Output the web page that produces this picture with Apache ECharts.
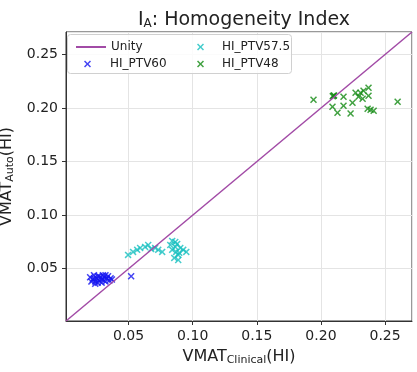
<!DOCTYPE html>
<html>
<head>
<meta charset="utf-8">
<script src="https://cdn.jsdelivr.net/npm/echarts@6/dist/echarts.min.js"></script>
<style>
html,body{margin:0;padding:0;background:#fff;}
#chart{width:417px;height:372px;}
</style>
</head>
<body>
<div id="chart"></div>
<script>
// values, [clinical HI, auto HI]
var ptv60 = [
	[0.020,0.042],[0.022,0.040],[0.023,0.044],[0.024,0.038],[0.025,0.041],
	[0.026,0.043],[0.027,0.039],[0.028,0.042],[0.029,0.037],[0.030,0.044],
	[0.030,0.040],[0.031,0.042],[0.032,0.038],[0.033,0.041],[0.034,0.043],
	[0.035,0.039],[0.036,0.041],[0.021,0.038],[0.024,0.036],[0.027,0.043],
	[0.029,0.040],[0.032,0.044],[0.026,0.037],[0.037,0.040],[0.023,0.041],
	[0.052,0.043]
];
var ptv575 = [
	[0.0496,0.0629],[0.0535,0.0657],[0.0567,0.0676],[0.0590,0.0694],[0.0629,0.0704],
	[0.0653,0.0722],[0.0676,0.0685],[0.0707,0.0694],[0.0731,0.0676],[0.0762,0.0657],
	[0.0825,0.0722],[0.0840,0.0760],[0.0864,0.0750],[0.0864,0.0704],[0.0871,0.0657],
	[0.0887,0.0629],[0.0856,0.0601],[0.0887,0.0582],[0.0903,0.0694],[0.0926,0.0676],
	[0.0950,0.0657],[0.0840,0.0676],[0.0879,0.0732],[0.0895,0.0648]
];
var ptv48 = [
	[0.1942,0.2077],[0.2098,0.2115],[0.2092,0.2110],[0.2102,0.2118],[0.2090,0.2012],
	[0.2129,0.1956],[0.2176,0.2105],[0.2176,0.2021],[0.2231,0.1949],[0.2246,0.2049],
	[0.2270,0.2143],[0.2293,0.2105],[0.2309,0.2143],[0.2325,0.2087],[0.2332,0.2162],
	[0.2371,0.2190],[0.2371,0.2115],[0.2364,0.1993],[0.2387,0.1984],[0.2411,0.1975],
	[0.2598,0.2059]
];
var unityLine = [[0.0012,0.0012],[0.271,0.271]];
var axisMin = 0.0012, axisMax = 0.271;

var xMark = 'path://M0,1.5L1.5,0L5,3.5L8.5,0L10,1.5L6.5,5L10,8.5L8.5,10L5,6.5L1.5,10L0,8.5L3.5,5Z';
var fontFam = 'DejaVu Sans';

var myChart = echarts.init(document.getElementById('chart'));

function valueAxis(sub, extra){
	var ax = {
		type : 'value',
		min : axisMin,
		max : axisMax,
		minInterval : 0.05,
		maxInterval : 0.05,
		splitNumber : 5,
		name : '{n|VMAT}{s|' + sub + '}{n|(HI)}',
		nameLocation : 'middle',
		nameTextStyle : {
			rich : {
				n : { fontSize : 16, color : '#222', fontFamily : fontFam },
				s : { fontSize : 11, color : '#222', fontFamily : fontFam, verticalAlign : 'bottom', padding : [8,0,0,0] }
			}
		},
		axisLine : { show : true, lineStyle : { color : '#333', width : 1 } },
		axisTick : { show : true, inside : false, length : 4, lineStyle : { color : '#333' } },
		axisLabel : {
			showMinLabel : false,
			showMaxLabel : false,
			fontSize : 14,
			color : '#222',
			fontFamily : fontFam,
			formatter : function(v){ return v.toFixed(2); }
		},
		splitLine : { show : true, lineStyle : { color : '#e4e4e4', width : 1 } }
	};
	for (var k in extra) ax[k] = extra[k];
	return ax;
}

function oneLegend(name, left, top, w, h, pad){
	return {
		data : [ name ],
		left : left,
		top : top,
		padding : 0,
		itemWidth : w,
		itemHeight : h,
		selectedMode : false,
		textStyle : { fontSize : 12, color : '#222', fontFamily : fontFam, padding : [0,0,0,pad] }
	};
}

var option = {
	animation : false,
	backgroundColor : '#fff',
	title : {
		text : '{n|I}{s|A}{n|: Homogeneity Index}',
		left : 239,
		textAlign : 'center',
		top : 5,
		textStyle : {
			fontWeight : 'normal',
			rich : {
				n : { fontSize : 19, fontWeight : 'normal', color : '#222', fontFamily : fontFam },
				s : { fontSize : 12, fontWeight : 'normal', color : '#222', fontFamily : fontFam, padding : [8,0,0,0] }
			}
		}
	},
	grid : {
		left : 66, right : 5, top : 32, bottom : 51,
		containLabel : false,
		outerBoundsMode : 'none',
		show : true, borderColor : '#333', borderWidth : 1
	},
	xAxis : valueAxis('Clinical', { nameGap : 26 }),
	yAxis : valueAxis('Auto', { nameGap : 27, nameRotate : 90 }),
	graphic : [ {
		type : 'rect',
		left : 67, top : 34, z : 3,
		shape : { width : 224, height : 39, r : 3 },
		style : { fill : 'rgba(255,255,255,0.85)', stroke : '#d0d0d0', lineWidth : 1 }
	} ],
	legend : [
		oneLegend('Unity', 75, 41, 30, 2, 0),
		oneLegend('HI_PTV60', 84, 58, 7, 7, 14),
		oneLegend('HI_PTV57.5', 197, 41, 7, 7, 13),
		oneLegend('HI_PTV48', 197, 58, 7, 7, 13)
	],
	series : [ {
		name : 'Unity',
		type : 'line',
		data : unityLine,
		symbol : 'none',
		lineStyle : { color : '#a24ba6', width : 1.5 },
		itemStyle : { color : '#a24ba6' },
		z : 5
	}, {
		name : 'HI_PTV60',
		type : 'scatter',
		data : ptv60,
		symbol : xMark,
		symbolSize : 7,
		itemStyle : { color : '#1515f0' }
	}, {
		name : 'HI_PTV57.5',
		type : 'scatter',
		data : ptv575,
		symbol : xMark,
		symbolSize : 7,
		itemStyle : { color : '#15bfbf' }
	}, {
		name : 'HI_PTV48',
		type : 'scatter',
		data : ptv48,
		symbol : xMark,
		symbolSize : 7,
		itemStyle : { color : '#128a12' }
	} ]
};
myChart.setOption(option, true);
</script>
</body>
</html>
